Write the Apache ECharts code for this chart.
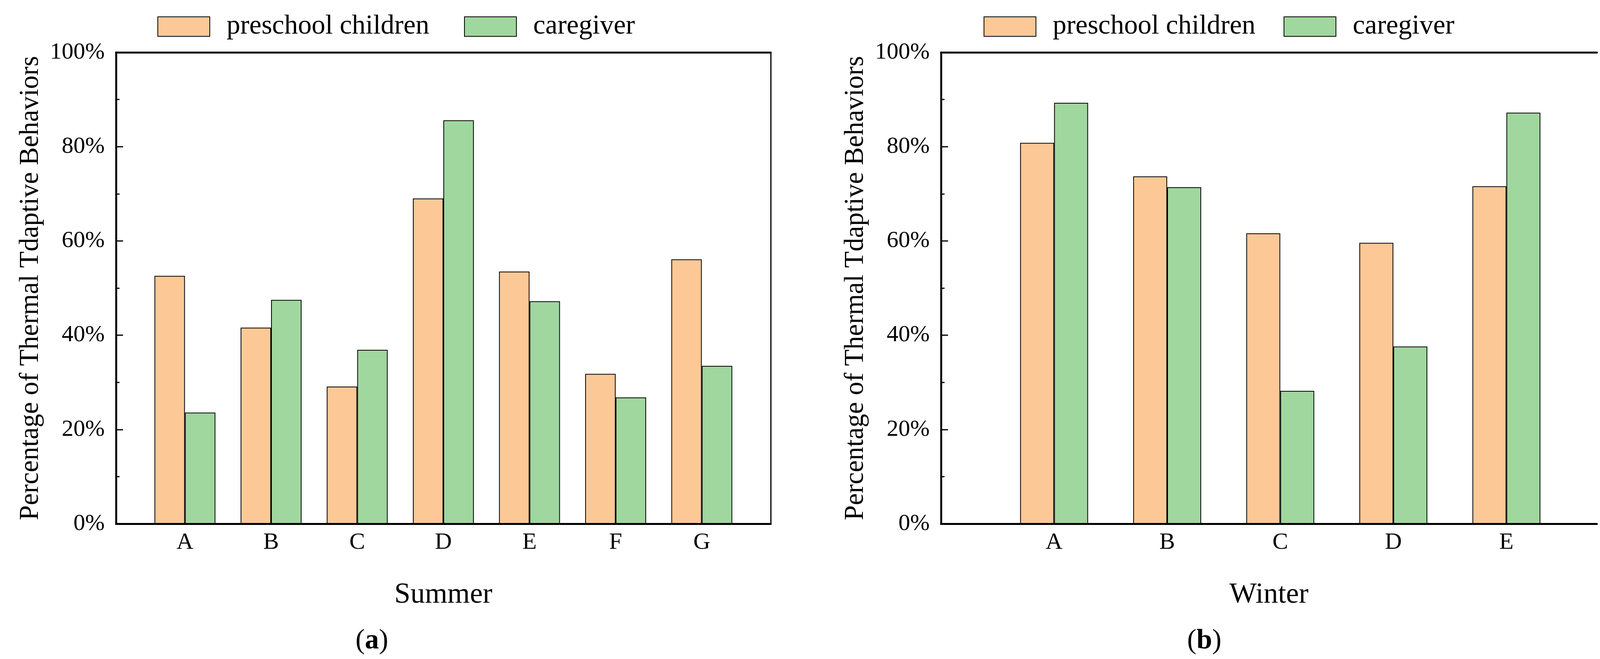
<!DOCTYPE html>
<html>
<head>
<meta charset="utf-8">
<script src="https://cdn.jsdelivr.net/npm/echarts@6/dist/echarts.min.js"></script>
<style>
html,body{margin:0;padding:0;background:#fff;}
#c{width:4131px;height:1686px;}
</style>
</head>
<body>
<div id="c"></div>
<script>
// ---- data ----
const summerCategories = ['A','B','C','D','E','F','G'];
const summerChildren   = [52.6, 41.6, 29.1, 69.0, 53.5, 31.8, 56.1];
const summerCaregiver  = [23.6, 47.5, 36.9, 85.6, 47.2, 26.8, 33.5];
const winterCategories = ['A','B','C','D','E'];
const winterChildren   = [80.8, 73.7, 61.6, 59.6, 71.6];
const winterCaregiver  = [89.3, 71.4, 28.2, 37.6, 87.2];
const yTicks = [0, 20, 40, 60, 80, 100];
const seriesNames = ['preschool children', 'caregiver'];
const yTitle = 'Percentage of Thermal Tdaptive Behaviors';

const FONT = '"Liberation Serif", "Times New Roman", serif';
const ORANGE = '#FCC896';
const GREEN = '#A0D79E';

const toPairs = arr => arr.map((v, i) => [i + 1, v]);
const posList = cats => cats.map((c, i) => i + 1);

function bottomX(grid, cats, min, max, name) {
  return {
    type: 'value', gridIndex: grid, min: min, max: max, position: 'bottom', z: 10,
    axisLine: {show: true, onZero: false, lineStyle: {color: '#000', width: 5}},
    axisTick: {show: false},
    splitLine: {show: false},
    axisLabel: {
      customValues: posList(cats),
      formatter: v => cats[Math.round(v) - 1] || '',
      fontFamily: FONT, fontSize: 60, color: '#000', margin: 18
    },
    name: name, nameLocation: 'middle', nameGap: 146,
    nameTextStyle: {fontFamily: FONT, fontSize: 74, color: '#000'}
  };
}
function topX(grid, min, max) {
  return {
    type: 'value', gridIndex: grid, min: min, max: max, position: 'top', z: 10,
    axisLine: {show: true, onZero: false, lineStyle: {color: '#000', width: 5}},
    axisTick: {show: false}, axisLabel: {show: false}, splitLine: {show: false}
  };
}
function leftY(grid) {
  return {
    type: 'value', gridIndex: grid, min: yTicks[0], max: yTicks[yTicks.length - 1], interval: 20,
    position: 'left', z: 10,
    axisLine: {show: true, lineStyle: {color: '#000', width: 5}},
    axisTick: {show: true, inside: true, length: 18, lineStyle: {color: '#000', width: 3}},
    minorTick: {show: true, splitNumber: 2, length: 9, lineStyle: {color: '#000', width: 3}},
    splitLine: {show: false},
    axisLabel: {formatter: '{value}%', fontFamily: FONT, fontSize: 60, color: '#000', margin: 29},
    name: yTitle, nameLocation: 'middle', nameRotate: 90, nameGap: 184,
    nameTextStyle: {fontFamily: FONT, fontSize: 69, color: '#000'}
  };
}
function rightY(grid) {
  return {
    type: 'value', gridIndex: grid, min: 0, max: 100, position: 'right', z: 10,
    axisLine: {show: true, lineStyle: {color: '#000', width: 3}},
    axisTick: {show: false}, axisLabel: {show: false}, splitLine: {show: false}
  };
}
function bars(name, data, color, xi, yi, w) {
  return {
    type: 'bar', name: name, xAxisIndex: xi, yAxisIndex: yi, data: data,
    barWidth: w, barGap: '0%',
    itemStyle: {color: color, borderColor: '#000', borderWidth: 2},
    emphasis: {disabled: true}
  };
}
function legendAt(left, name) {
  return {
    left: left, top: 33, padding: 0, itemWidth: 133, itemHeight: 50,
    icon: 'rect', data: [name], selectedMode: false,
    textStyle: {fontFamily: FONT, fontSize: 70, color: '#000', padding: [0, 0, 0, 38]}
  };
}

const chart = echarts.init(document.getElementById('c'), null, {renderer: 'canvas'});
chart.setOption({
  backgroundColor: '#fff',
  animation: false,
  grid: [
    {left: 297, top: 134, width: 1676, height: 1206},
    {left: 2409, top: 134, width: 1679, height: 1206}
  ],
  legend: [
    legendAt(403, seriesNames[0]), legendAt(1188, seriesNames[1]),
    legendAt(2518, seriesNames[0]), legendAt(3286, seriesNames[1])
  ],
  xAxis: [
    bottomX(0, summerCategories, 0.2, 7.8, 'Summer'),
    topX(0, 0.2, 7.8),
    bottomX(1, winterCategories, 0, 5.8, 'Winter'),
    topX(1, 0, 5.8)
  ],
  yAxis: [leftY(0), rightY(0), leftY(1), rightY(1)],
  series: [
    bars(seriesNames[0], toPairs(summerChildren), ORANGE, 0, 0, 78),
    bars(seriesNames[1], toPairs(summerCaregiver), GREEN, 0, 0, 78),
    bars(seriesNames[0], toPairs(winterChildren), ORANGE, 2, 2, 87),
    bars(seriesNames[1], toPairs(winterCaregiver), GREEN, 2, 2, 87)
  ],
  graphic: [
    {type: 'text', x: 952, y: 1640, style: {
      text: '({b|a})', rich: {b: {fontWeight: 'bold', fontFamily: FONT, fontSize: 72}},
      fontFamily: FONT, fontSize: 72, fill: '#000', align: 'center', verticalAlign: 'middle'}},
    {type: 'text', x: 3083, y: 1640, style: {
      text: '({b|b})', rich: {b: {fontWeight: 'bold', fontFamily: FONT, fontSize: 72}},
      fontFamily: FONT, fontSize: 72, fill: '#000', align: 'center', verticalAlign: 'middle'}}
  ]
});
</script>
</body>
</html>
